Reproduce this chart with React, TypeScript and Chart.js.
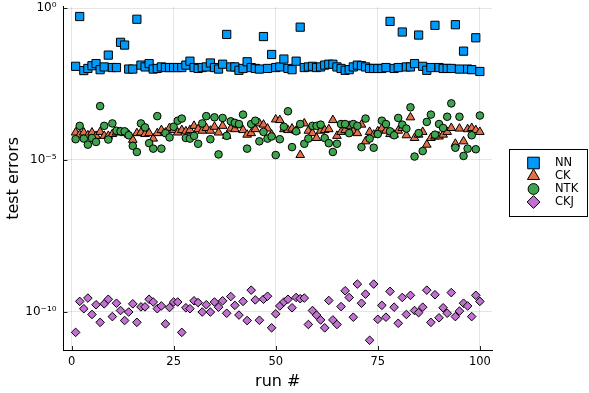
import { useEffect, useRef } from "react";
import { Chart, registerables } from "chart.js";
import { drawPoint } from "chart.js/helpers";

Chart.register(...registerables);

// ---- data (values are read as log10 exponents of the test error) ----
const runs = Array.from({ length: 100 }, (_, i) => i + 1);

const nnExp = [
  -1.92, -0.28, -2.06, -1.99, -1.9, -1.83, -2.03, -1.94, -1.55, -1.96,
  -1.96, -1.13, -1.22, -2.01, -2.01, -0.37, -1.88, -1.94, -1.83, -2.01,
  -1.99, -1.94, -1.96, -1.96, -1.96, -1.96, -1.96, -1.88, -1.75, -1.96,
  -1.99, -1.96, -1.94, -1.81, -1.96, -2.01, -1.85, -0.87, -1.94, -1.94,
  -2.05, -1.99, -1.77, -1.96, -1.99, -2.01, -0.94, -1.99, -1.53, -1.96,
  -1.94, -1.68, -1.99, -2.03, -1.75, -0.63, -1.96, -1.94, -1.92, -1.96,
  -1.94, -1.88, -1.85, -1.85, -1.94, -1.99, -2.05, -2.03, -1.94, -1.88,
  -1.9, -1.94, -1.99, -1.99, -1.99, -1.99, -1.96, -0.44, -1.99, -1.96,
  -0.79, -1.94, -1.94, -1.83, -0.89, -1.92, -2.05, -1.96, -0.57, -1.96,
  -1.99, -1.99, -1.99, -0.55, -2.01, -1.42, -2.01, -2.03, -0.98, -2.09,
];

const ckExp = [
  -4.1, -4.17, -4.1, -4.19, -4.1, -4.21, -4.08, -4.21, -4.21, -4.15,
  -4.1, -4.08, -4.12, -4.17, -4.34, -4.12, -4.1, -4.15, -4.12, -4.3,
  -4.12, -4.02, -4.1, -3.95, -4.02, -4.1, -4.02, -4.06, -4.02, -3.88,
  -3.99, -4.04, -3.95, -4.04, -3.91, -4.1, -3.88, -4.21, -3.97, -3.99,
  -3.86, -4.02, -4.17, -4.12, -3.99, -3.8, -3.84, -3.97, -4.17, -3.67,
  -3.69, -3.99, -4.02, -3.97, -4.04, -4.84, -3.8, -4.04, -4.12, -4.28,
  -4.04, -4.02, -3.99, -3.69, -4.21, -4.08, -4.02, -3.88, -4.06, -4.12,
  -3.84, -4.39, -4.08, -4.17, -4.06, -3.97, -4.04, -4.15, -4.17, -4.04,
  -3.95, -4.19, -3.6, -4.28, -4.17, -4.08, -4.5, -4.28, -4.23, -4.23,
  -4.17, -4.08, -3.95, -4.47, -3.97, -4.39, -3.99, -3.95, -4.02, -4.08,
];

const ntkExp = [
  -4.32, -3.88, -4.3, -4.5, -4.28, -4.41, -3.23, -3.88, -4.33, -3.8,
  -4.04, -4.06, -4.06, -4.19, -4.54, -4.74, -3.8, -3.93, -4.45, -4.63,
  -3.56, -4.63, -4.12, -4.26, -3.91, -3.71, -3.64, -4.28, -4.3, -4.21,
  -4.47, -3.8, -3.56, -4.32, -3.6, -4.82, -3.62, -4.21, -3.73, -3.78,
  -3.82, -3.51, -4.63, -3.82, -3.71, -4.39, -4.08, -4.3, -4.23, -4.84,
  -4.32, -3.91, -3.4, -4.58, -4.06, -3.82, -4.47, -4.3, -3.88, -3.88,
  -3.84, -4.28, -4.45, -4.74, -4.47, -3.82, -3.82, -4.12, -3.82, -3.88,
  -4.58, -3.64, -4.3, -4.6, -4.15, -3.71, -3.82, -4.06, -4.19, -3.62,
  -3.84, -3.97, -3.27, -4.89, -4.12, -4.71, -3.75, -3.51, -4.17, -3.82,
  -3.95, -3.58, -3.14, -4.6, -3.58, -4.87, -4.63, -4.19, -4.65, -3.54,
];

const ckjExp = [
  -10.68, -9.66, -9.9, -9.55, -10.09, -9.77, -10.35, -9.74, -9.59, -10.16,
  -9.72, -9.96, -10.29, -10.01, -9.74, -10.35, -9.84, -9.84, -9.59, -9.68,
  -9.9, -9.81, -10.4, -9.86, -9.68, -9.68, -10.68, -9.87, -9.9, -9.64,
  -9.7, -10.01, -9.77, -10.01, -9.68, -9.85, -9.64, -10.05, -9.5, -9.79,
  -10.11, -9.66, -10.29, -9.29, -9.61, -10.28, -9.59, -9.49, -10.53, -10.07,
  -9.81, -9.68, -9.59, -9.87, -9.53, -9.57, -9.55, -10.42, -9.96, -10.11,
  -10.27, -10.53, -9.63, -10.27, -10.42, -9.83, -9.31, -9.53, -10.18, -9.09,
  -9.72, -9.42, -10.94, -9.09, -10.25, -9.79, -10.18, -9.33, -9.85, -10.38,
  -9.53, -10.09, -9.46, -9.96, -10.03, -9.85, -9.29, -10.35, -9.44, -10.2,
  -9.87, -10.05, -9.37, -10.16, -9.98, -9.72, -9.81, -10.16, -9.46, -9.66,
];

const seriesNames = ["NN", "CK", "NTK", "CKJ"];
const seriesExps = [nnExp, ckExp, ntkExp, ckjExp];
const seriesColors = ["#009AFA", "#E36F47", "#3EA44E", "#C271D2"];
const seriesMarkers = ["rect", "triangle", "circle", "rectRot"];
const markerRadius = [5.8, 5.0, 3.8, 4.3];
const legendMarkerRadius = [8.2, 7.0, 5.4, 6.4];

const xTickValues = [0, 25, 50, 75, 100];
const xTickLabels = ["0", "25", "50", "75", "100"];
const yTickValues = [1e-10, 1e-5, 1];
const yTickLabels = ["10\u207B\u00B9\u2070", "10\u207B\u2075", "10\u2070"];

const FONT = '"DejaVu Sans", sans-serif';

const decorPlugin = {
  id: "decor",
  beforeDatasetsDraw(chart: any) {
    const { ctx, chartArea, scales } = chart;
    ctx.save();
    ctx.strokeStyle = "#222";
    ctx.lineWidth = 1;
    ctx.beginPath();
    for (const v of yTickValues) {
      const y = Math.round(scales.y.getPixelForValue(v)) + 0.5;
      ctx.moveTo(chartArea.left, y);
      ctx.lineTo(chartArea.left + 4, y);
    }
    for (const v of xTickValues) {
      const x = Math.round(scales.x.getPixelForValue(v)) + 0.5;
      ctx.moveTo(x, chartArea.bottom);
      ctx.lineTo(x, chartArea.bottom - 4);
    }
    ctx.stroke();
    ctx.restore();
  },
  afterDraw(chart: any) {
    const { ctx } = chart;
    ctx.save();
    ctx.fillStyle = "#fff";
    ctx.fillRect(509, 149, 78, 68);
    ctx.strokeStyle = "#000";
    ctx.lineWidth = 1;
    ctx.strokeRect(509.5, 149.5, 78, 67);
    seriesNames.forEach((name, i) => {
      const y = 163 + i * 13;
      ctx.fillStyle = seriesColors[i];
      ctx.strokeStyle = "#000";
      ctx.lineWidth = 1;
      drawPoint(
        ctx,
        { pointStyle: seriesMarkers[i] as any, radius: legendMarkerRadius[i], borderWidth: 1, rotation: 0 },
        533.5,
        y
      );
    });
    seriesNames.forEach((name, i) => {
      const y = 163 + i * 13;
      ctx.fillStyle = "#000";
      ctx.font = `11.5px ${FONT}`;
      ctx.textBaseline = "middle";
      ctx.textAlign = "left";
      ctx.fillText(name, 555, y + 0.5);
    });
    ctx.restore();
  },
};

export default function App() {
  const canvasRef = useRef<HTMLCanvasElement | null>(null);

  useEffect(() => {
    if (!canvasRef.current) return;
    Chart.defaults.font.family = FONT;
    Chart.defaults.color = "#000";

    const datasets = seriesNames.map((name, i) => ({
      label: name,
      data: runs.map((r, j) => ({ x: r, y: 10 ** seriesExps[i][j] })),
      pointStyle: seriesMarkers[i],
      pointRadius: markerRadius[i],
      pointBackgroundColor: seriesColors[i],
      backgroundColor: seriesColors[i],
      pointBorderColor: "#000",
      borderColor: "#000",
      pointBorderWidth: 1,
      showLine: false,
      order: seriesNames.length - i,
    }));

    const chart = new Chart(canvasRef.current, {
      type: "scatter",
      data: { datasets: datasets as any },
      options: {
        responsive: false,
        animation: false,
        devicePixelRatio: 1,
        layout: { padding: { left: 0, right: 97, top: 5, bottom: 0 } },
        plugins: { legend: { display: false }, tooltip: { enabled: false } },
        scales: {
          x: {
            type: "linear",
            min: -1.97,
            max: 102.97,
            afterBuildTicks: (s: any) => {
              s.ticks = xTickValues.map((value) => ({ value }));
            },
            afterFit: (s: any) => {
              s.height = 43;
              s.paddingLeft = 0;
              s.paddingRight = 0;
            },
            ticks: {
              callback: (_v: any, i: number) => xTickLabels[i],
              font: { size: 11.5, family: FONT },
              color: "#000",
              padding: 5,
              maxRotation: 0,
              autoSkip: false,
            },
            grid: { color: "rgba(0,0,0,0.1)", lineWidth: 1, drawTicks: false },
            border: { color: "#000", width: 1 },
            title: {
              display: true,
              text: "run #",
              font: { size: 16, family: FONT },
              color: "#000",
              padding: { top: 0, bottom: 2 },
            },
          },
          y: {
            type: "logarithmic",
            min: 10 ** -11.26,
            max: 10 ** 0.04,
            afterBuildTicks: (s: any) => {
              s.ticks = yTickValues.map((value) => ({ value }));
            },
            afterFit: (s: any) => {
              s.width = 63.5;
              s.paddingTop = 0;
              s.paddingBottom = 0;
            },
            ticks: {
              callback: (_v: any, i: number) => yTickLabels[i],
              font: { size: 12, family: FONT },
              color: "#000",
              padding: 7,
              autoSkip: false,
            },
            grid: { color: "rgba(0,0,0,0.1)", lineWidth: 1, drawTicks: false },
            border: { color: "#000", width: 1 },
            title: {
              display: true,
              text: "test errors",
              font: { size: 16, family: FONT },
              color: "#000",
              padding: { top: 4, bottom: 0 },
            },
          },
        },
      },
      plugins: [decorPlugin],
    });

    return () => chart.destroy();
  }, []);

  return (
    <div style={{ position: "fixed", left: 0, top: 0, width: 589, height: 393, background: "#fff" }}>
      <canvas ref={canvasRef} width={589} height={393} style={{ display: "block" }} />
    </div>
  );
}
